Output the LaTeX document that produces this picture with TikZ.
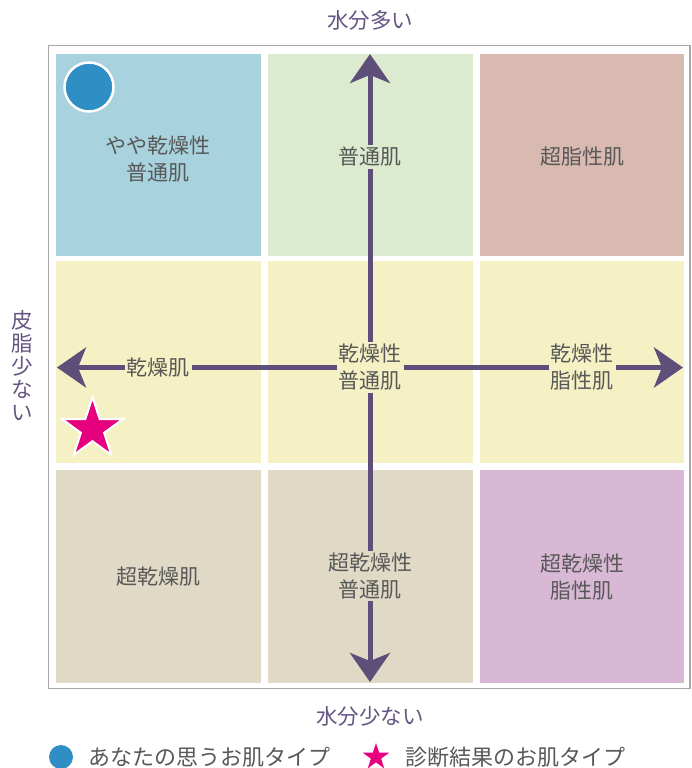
\documentclass[tikz,border=0pt]{standalone}
\usepackage{fontspec}
\newfontfamily\jp{Noto Sans CJK JP}
\usetikzlibrary{arrows.meta,shapes.geometric}
\definecolor{cblue}{RGB}{168,211,222}
\definecolor{cgreen}{RGB}{220,235,207}
\definecolor{cbrown}{RGB}{217,186,176}
\definecolor{cyellow}{RGB}{245,241,196}
\definecolor{cbeige}{RGB}{224,217,197}
\definecolor{cmauve}{RGB}{217,184,214}
\definecolor{arrowc}{RGB}{94,78,122}
\definecolor{axisc}{RGB}{100,85,130}
\definecolor{textc}{RGB}{88,88,88}
\definecolor{dotc}{RGB}{47,143,196}
\definecolor{starc}{RGB}{230,0,126}
\definecolor{framec}{RGB}{168,168,170}
\tikzset{
  cell/.style={draw=none, inner sep=0pt, outer sep=0pt},
  lbl/.style={font=\jp\fontsize{21}{27}\selectfont, text=textc, align=center, inner sep=2pt},
  axislbl/.style={font=\jp\fontsize{21.5}{23}\selectfont, text=axisc, align=center, inner sep=0pt},
  legtext/.style={font=\jp\fontsize{22}{26}\selectfont, text=textc, anchor=west, inner sep=0pt},
  axisarrow/.style={draw=arrowc, line width=5pt, {Stealth[length=29pt,width=40pt,inset=8pt]}-{Stealth[length=29pt,width=40pt,inset=8pt]}},
  starmark/.style={star, star points=5, star point ratio=2.618, inner sep=0pt, fill=starc},
}
\begin{document}
\begin{tikzpicture}[x=1pt,y=-1pt]
\useasboundingbox (0,0) rectangle (691,768);
% frame
\draw[framec, line width=1.5pt] (48.5,45.5) rectangle (690,688.5);
% cells
\fill[cblue]   (56,54)  rectangle (261,256);
\fill[cgreen]  (268,54) rectangle (473,256);
\fill[cbrown]  (480,54) rectangle (684,256);
\fill[cyellow] (56,261)  rectangle (261,463);
\fill[cyellow] (268,261) rectangle (473,463);
\fill[cyellow] (480,261) rectangle (684,463);
\fill[cbeige]  (56,470)  rectangle (261,683);
\fill[cbeige]  (268,470) rectangle (473,683);
\fill[cmauve]  (480,470) rectangle (684,683);
% axis tips
\coordinate (ytop) at (370,54);
\coordinate (ybot) at (370,682);
\coordinate (xleft) at (57,367.5);
\coordinate (xright) at (683,367.5);
\draw[axisarrow] (ybot) -- (ytop);
\draw[axisarrow] (xleft) -- (xright);
% cell labels
\node[lbl] (c11) at (158,159) {やや乾燥性\\普通肌};
\node[lbl, fill=cgreen] (c12) at (370,157) {普通肌};
\node[lbl] (c13) at (582,157) {超脂性肌};
\node[lbl, fill=cyellow] (c21) at (158,367.5) {乾燥肌};
\node[lbl, fill=cyellow] (c22) at (370,367.5) {乾燥性\\普通肌};
\node[lbl, fill=cyellow] (c23) at (582,367.5) {乾燥性\\脂性肌};
\node[lbl] (c31) at (158,577) {超乾燥肌};
\node[lbl, fill=cbeige] (c32) at (370,576) {超乾燥性\\普通肌};
\node[lbl] (c33) at (582,577) {超乾燥性\\脂性肌};
% markers
\node[circle, fill=dotc, draw=white, line width=2.5pt, minimum size=49pt, inner sep=0pt] (you) at (89,87) {};
\node[starmark, draw=white, line width=2pt, minimum size=64pt] (diag) at (92.5,429) {};
% axis labels
\node[axislbl] (top) at (370,20) {水分多い};
\node[axislbl] (bottom) at (370,716) {水分少ない};
\node[axislbl] (left) at (22,366) {皮\\脂\\少\\な\\い};
% legend
\node[circle, fill=dotc, minimum size=24pt, inner sep=0pt] (legdot) at (61,757) {};
\node[legtext] (legdottxt) at (88,757) {あなたの思うお肌タイプ};
\node[starmark, minimum size=28pt] (legstar) at (376,757) {};
\node[legtext] (legstartxt) at (405,757) {診断結果のお肌タイプ};
\end{tikzpicture}
\end{document}
